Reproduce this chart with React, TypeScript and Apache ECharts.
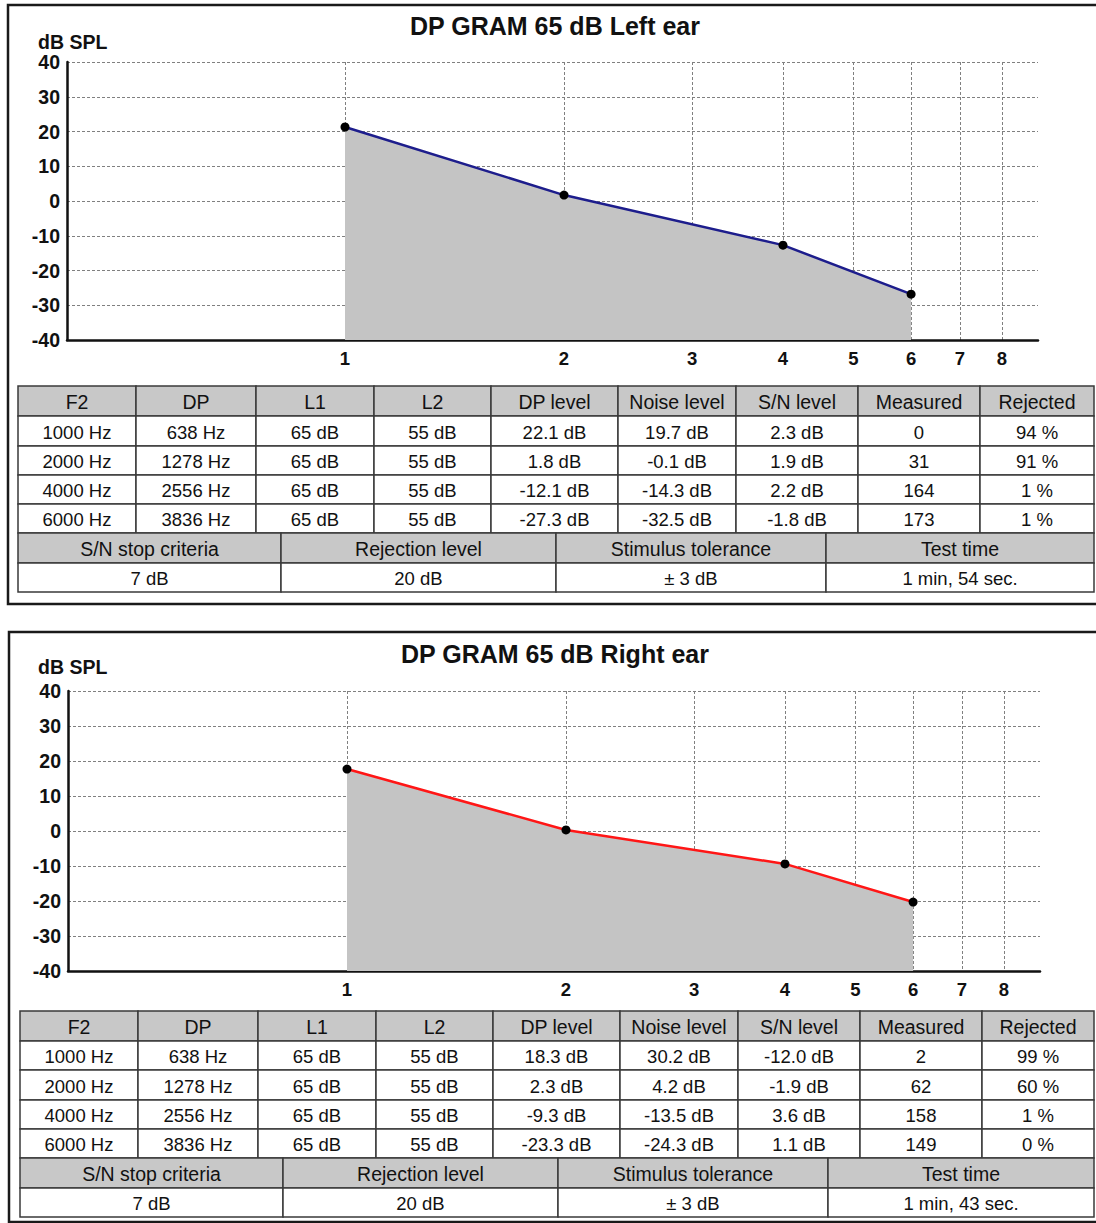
import React, { useEffect, useRef } from "react";
import * as echarts from "echarts";

const FONT = '"Liberation Sans", Arial, Helvetica, sans-serif';

// ---------- data ----------
const xTickValues = [1, 2, 3, 4, 5, 6, 7, 8];
const yMin = -40;
const yMax = 40;
const yStep = 10;

const freqKHz = [1, 2, 4, 6];
const leftEarPlot = [21.3, 1.7, -12.7, -26.8];
const rightEarPlot = [17.7, 0.3, -9.4, -20.3];

const tableHeaders = ["F2", "DP", "L1", "L2", "DP level", "Noise level", "S/N level", "Measured", "Rejected"];
const f2Col = ["1000 Hz", "2000 Hz", "4000 Hz", "6000 Hz"];
const dpCol = ["638 Hz", "1278 Hz", "2556 Hz", "3836 Hz"];
const l1Col = ["65 dB", "65 dB", "65 dB", "65 dB"];
const l2Col = ["55 dB", "55 dB", "55 dB", "55 dB"];

const leftDpLevel = ["22.1 dB", "1.8 dB", "-12.1 dB", "-27.3 dB"];
const leftNoise = ["19.7 dB", "-0.1 dB", "-14.3 dB", "-32.5 dB"];
const leftSN = ["2.3 dB", "1.9 dB", "2.2 dB", "-1.8 dB"];
const leftMeasured = ["0", "31", "164", "173"];
const leftRejected = ["94 %", "91 %", "1 %", "1 %"];

const rightDpLevel = ["18.3 dB", "2.3 dB", "-9.3 dB", "-23.3 dB"];
const rightNoise = ["30.2 dB", "4.2 dB", "-13.5 dB", "-24.3 dB"];
const rightSN = ["-12.0 dB", "-1.9 dB", "3.6 dB", "1.1 dB"];
const rightMeasured = ["2", "62", "158", "149"];
const rightRejected = ["99 %", "60 %", "1 %", "0 %"];

const summaryHeaders = ["S/N stop criteria", "Rejection level", "Stimulus tolerance", "Test time"];
const leftSummary = ["7 dB", "20 dB", "± 3 dB", "1 min, 54 sec."];
const rightSummary = ["7 dB", "20 dB", "± 3 dB", "1 min, 43 sec."];

const leftTitle = "DP GRAM 65 dB Left ear";
const rightTitle = "DP GRAM 65 dB Right ear";
const unitLabel = "dB SPL";

// ---------- layout ----------
const panels = [
  {
    title: leftTitle,
    titleY: 26,
    unitY: 42,
    box: { x: 8, y: 5, h: 599 },
    grid: { left: 67, top: 62, width: 971, height: 278 },
    xMin: 0.4148,
    xMax: 8.966,
    lineColor: "#1d1d8c",
    plot: leftEarPlot,
    cols: [leftDpLevel, leftNoise, leftSN, leftMeasured, leftRejected],
    summary: leftSummary,
    table: {
      cols: [18, 136, 256, 374, 491, 618, 736, 858, 980, 1094],
      rows: [386, 416, 446, 475, 504, 533],
      sum: [18, 281, 556, 826, 1094],
      sumRows: [533, 563, 592],
    },
  },
  {
    title: rightTitle,
    titleY: 654,
    unitY: 667,
    box: { x: 9, y: 632, h: 590 },
    grid: { left: 68, top: 691, width: 972, height: 280 },
    xMin: 0.4135,
    xMax: 8.966,
    lineColor: "#ff1616",
    plot: rightEarPlot,
    cols: [rightDpLevel, rightNoise, rightSN, rightMeasured, rightRejected],
    summary: rightSummary,
    table: {
      cols: [20, 138, 258, 376, 493, 620, 738, 860, 982, 1094],
      rows: [1011, 1041, 1070, 1100, 1129, 1158],
      sum: [20, 283, 558, 828, 1094],
      sumRows: [1158, 1188, 1217],
    },
  },
];

const HEADER_FILL = "#c8c8c8";
const BORDER = "#3a3a3a";

function cell(x0: number, y0: number, x1: number, y1: number, text: string, header: boolean): any[] {
  return [
    {
      type: "rect",
      shape: { x: x0, y: y0, width: x1 - x0, height: y1 - y0 },
      style: { fill: header ? HEADER_FILL : "#ffffff", stroke: BORDER, lineWidth: 1.5 },
      z: 10,
    },
    {
      type: "text",
      x: (x0 + x1) / 2,
      y: (y0 + y1) / 2 + 1,
      style: {
        text,
        fill: "#111",
        fontSize: header ? 19.5 : 18.5,
        fontFamily: FONT,
        align: "center",
        verticalAlign: "middle",
      },
      z: 11,
    },
  ];
}

function buildTable(p: any): any[] {
  const els: any[] = [];
  const t = p.table;
  const columns = [f2Col, dpCol, l1Col, l2Col, ...p.cols];
  for (let c = 0; c < tableHeaders.length; c++) {
    els.push(...cell(t.cols[c], t.rows[0], t.cols[c + 1], t.rows[1], tableHeaders[c], true));
    for (let r = 0; r < 4; r++) {
      els.push(...cell(t.cols[c], t.rows[r + 1], t.cols[c + 1], t.rows[r + 2], columns[c][r], false));
    }
  }
  for (let c = 0; c < summaryHeaders.length; c++) {
    els.push(...cell(t.sum[c], t.sumRows[0], t.sum[c + 1], t.sumRows[1], summaryHeaders[c], true));
    els.push(...cell(t.sum[c], t.sumRows[1], t.sum[c + 1], t.sumRows[2], p.summary[c], false));
  }
  return els;
}

export default function App() {
  const ref = useRef<HTMLDivElement>(null);

  useEffect(() => {
    document.body.style.margin = "0";
    if (!ref.current) return;
    const chart = echarts.init(ref.current, undefined, { renderer: "svg" });

    const graphics: any[] = [];
    panels.forEach((p) => {
      graphics.push({
        type: "rect",
        shape: { x: p.box.x, y: p.box.y, width: 1110 - p.box.x, height: p.box.h },
        style: { fill: "none", stroke: "#1a1a1a", lineWidth: 2.5 },
        z: 1,
      });
      graphics.push({
        type: "text",
        x: 555,
        y: p.titleY,
        style: {
          text: p.title,
          fill: "#111",
          fontSize: 25,
          fontWeight: "bold",
          fontFamily: FONT,
          align: "center",
          verticalAlign: "middle",
        },
        z: 5,
      });
      graphics.push({
        type: "text",
        x: 38,
        y: p.unitY,
        style: {
          text: unitLabel,
          fill: "#111",
          fontSize: 19.5,
          fontWeight: "bold",
          fontFamily: FONT,
          align: "left",
          verticalAlign: "middle",
        },
        z: 5,
      });
      graphics.push(...buildTable(p));
    });

    const option: any = {
      animation: false,
      backgroundColor: "#ffffff",
      textStyle: { fontFamily: FONT },
      grid: panels.map((p) => ({ ...p.grid, containLabel: false })),
      xAxis: panels.map((p, i) => ({
        type: "log",
        logBase: 2,
        gridIndex: i,
        min: p.xMin,
        max: p.xMax,
        axisLine: { show: true, onZero: false, lineStyle: { color: "#111", width: 2.5 } },
        axisTick: { show: false, customValues: xTickValues },
        axisLabel: {
          customValues: xTickValues,
          color: "#111",
          fontWeight: "bold",
          fontSize: 18.5,
          fontFamily: FONT,
          margin: 9,
        },
        splitLine: { show: true, lineStyle: { color: "#808080", type: [3, 2], width: 1 } },
        minorTick: { show: false },
        minorSplitLine: { show: false },
      })),
      yAxis: panels.map((p, i) => ({
        type: "value",
        gridIndex: i,
        min: yMin,
        max: yMax,
        interval: yStep,
        axisLine: { show: true, onZero: false, lineStyle: { color: "#111", width: 2.5 } },
        axisTick: { show: false },
        axisLabel: {
          color: "#111",
          fontWeight: "bold",
          fontSize: 19.5,
          fontFamily: FONT,
          margin: 7,
        },
        splitLine: { show: true, lineStyle: { color: "#808080", type: [3, 2], width: 1 } },
      })),
      series: panels.map((p, i) => ({
        type: "line",
        xAxisIndex: i,
        yAxisIndex: i,
        data: freqKHz.map((f, k) => [f, p.plot[k]]),
        symbol: "circle",
        symbolSize: 9,
        showSymbol: true,
        itemStyle: { color: "#000" },
        lineStyle: { color: p.lineColor, width: 2.5 },
        areaStyle: { color: "#c4c4c4", opacity: 1, origin: "start" },
        z: 3,
      })),
      graphic: graphics,
    };

    chart.setOption(option);
    return () => chart.dispose();
  }, []);

  return (
    <div
      ref={ref}
      style={{ position: "absolute", left: 0, top: 0, width: 1096, height: 1223, overflow: "hidden", background: "#fff" }}
    />
  );
}
